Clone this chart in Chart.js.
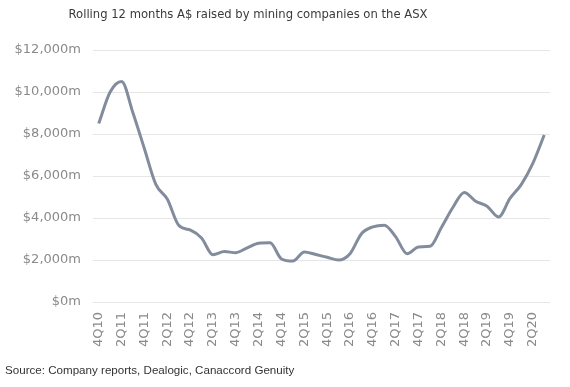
<!DOCTYPE html>
<html>
<head>
<meta charset="utf-8">
<script src="https://cdn.jsdelivr.net/npm/chart.js@4"></script>
<style>
  html, body { margin: 0; padding: 0; background: #fff; }
  #wrap { position: relative; width: 570px; height: 387px; }
  #titulo { position: absolute; left: 0; width: 496px; top: 7px; text-align: center;
            font: 11.6px "DejaVu Sans", sans-serif; color: #3a3a3a; }
  #fonte { position: absolute; left: 5px; top: 363px;
           font: 11.6px "Liberation Sans", sans-serif; color: #333; }
  canvas { position: absolute; left: 0; top: 0; }
</style>
</head>
<body>
<div id="wrap">
  <canvas id="grafico" width="570" height="387"></canvas>
  <div id="titulo">Rolling 12 months A$ raised by mining companies on the ASX</div>
  <div id="fonte">Source: Company reports, Dealogic, Canaccord Genuity</div>
</div>
<script>
// trimestres (4Q10 .. 3Q20)
const trimestres = [
  '4Q10','1Q11','2Q11','3Q11','4Q11','1Q12','2Q12','3Q12','4Q12','1Q13',
  '2Q13','3Q13','4Q13','1Q14','2Q14','3Q14','4Q14','1Q15','2Q15','3Q15',
  '4Q15','1Q16','2Q16','3Q16','4Q16','1Q17','2Q17','3Q17','4Q17','1Q18',
  '2Q18','3Q18','4Q18','1Q19','2Q19','3Q19','4Q19','1Q20','2Q20','3Q20'
];

// A$ m levantados (rolling 12 meses)
const valores = [
  8500, 10000, 10500, 9000, 7300, 5600, 4900, 3650, 3430, 3050,
  2250, 2400, 2350, 2580, 2800, 2820, 2050, 1950, 2380, 2260,
  2130, 2000, 2300, 3250, 3580, 3660, 3100, 2300, 2620, 2650,
  3550, 4500, 5220, 4800, 4560, 4050, 4930, 5600, 6600, 7950
];

const yTicks = [0, 2000, 4000, 6000, 8000, 10000, 12000];

function formatarMilhoes(v) {
  return '$' + v.toLocaleString('en-US') + 'm';
}

const ctx = document.getElementById('grafico').getContext('2d');
new Chart(ctx, {
  type: 'line',
  data: {
    labels: trimestres,
    datasets: [{
      data: valores,
      borderColor: '#838c9d',
      borderWidth: 3,
      pointRadius: 0,
      tension: 0.4,
      cubicInterpolationMode: 'monotone',
      fill: false
    }]
  },
  options: {
    responsive: false,
    animation: false,
    layout: { padding: { top: 50, right: 13, bottom: 0, left: 0 } },
    plugins: {
      legend: { display: false },
      tooltip: { enabled: false }
    },
    scales: {
      x: {
        offset: true,
        grid: { display: false, drawTicks: false },
        border: { display: false },
        afterFit: s => { s.height = 85; },
        ticks: {
          autoSkip: false,
          maxRotation: 90,
          minRotation: 90,
          padding: 10,
          color: '#8a8a8a',
          font: { family: 'DejaVu Sans', size: 13 },
          callback: (val, i) => (i % 2 === 0 ? trimestres[i] : '')
        }
      },
      y: {
        min: 0,
        max: 12000,
        afterBuildTicks: s => { s.ticks = yTicks.map(v => ({ value: v })); },
        afterFit: s => { s.width = 93; },
        grid: { color: '#e6e6e6', lineWidth: 1, drawTicks: false },
        border: { display: false },
        ticks: {
          padding: 12,
          color: '#8a8a8a',
          font: { family: 'DejaVu Sans', size: 13 },
          callback: v => formatarMilhoes(v)
        }
      }
    }
  }
});
</script>
</body>
</html>
